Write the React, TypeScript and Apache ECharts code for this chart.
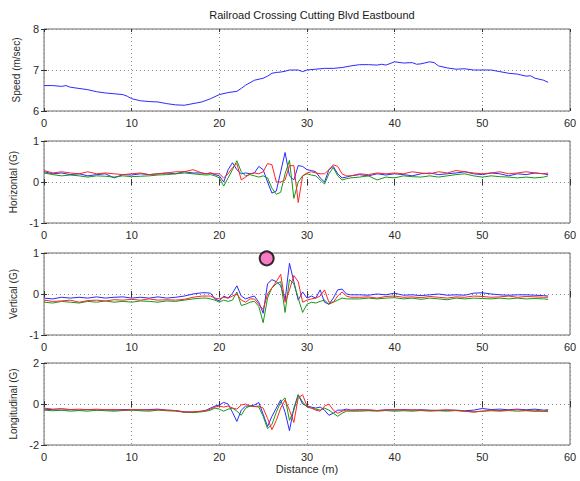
import React, { useEffect, useRef } from "react";
import * as echarts from "echarts";

const TITLE = "Railroad Crossing Cutting Blvd Eastbound";
const X_NAME = "Distance (m)";
const Y_NAMES = ["Speed (m/sec)", "Horizontal (G)", "Vertical (G)", "Longitudinal (G)"];
// [min, max, interval]
const Y_RANGES = [
  [6, 8, 1],
  [-1, 1, 1],
  [-1, 1, 1],
  [-2, 2, 2],
];
const X_RANGE = [0, 60, 10];

// Speed (m/sec)
const SPEED_X = [0, 1, 2, 2.5, 3, 4, 5, 6, 7, 8, 9, 9.5, 10, 11, 12, 13, 14, 15, 16, 17, 18, 19, 20, 21, 22, 22.5, 23, 24, 25, 25.5, 26, 26.5, 27, 27.5, 28, 29, 29.5, 30, 31, 32, 33, 34, 35, 36, 37, 38, 38.5, 39, 40, 41, 42, 42.5, 43, 44, 44.5, 45, 46, 47, 48, 49, 50, 51, 52, 53, 54, 55, 55.5, 56, 57, 57.5];
const SPEED = [6.62, 6.62, 6.6, 6.62, 6.58, 6.55, 6.52, 6.47, 6.44, 6.42, 6.4, 6.36, 6.3, 6.25, 6.23, 6.22, 6.18, 6.15, 6.14, 6.18, 6.22, 6.3, 6.4, 6.45, 6.48, 6.55, 6.63, 6.75, 6.8, 6.85, 6.92, 6.94, 6.95, 6.97, 7.0, 7.0, 6.96, 7.0, 7.02, 7.04, 7.04, 7.06, 7.1, 7.13, 7.13, 7.12, 7.14, 7.12, 7.2, 7.17, 7.18, 7.14, 7.15, 7.2, 7.18, 7.1, 7.05, 7.02, 7.03, 7.0, 7.0, 7.0, 6.96, 6.92, 6.9, 6.85, 6.86, 6.8, 6.75, 6.7];

// Distance samples for acceleration traces
const X = [
  0, 1, 2, 3, 4, 5, 6, 7, 8, 9, 10, 11, 12, 13, 14, 15, 16, 17, 18,
  18.5, 19, 19.5, 20, 20.5, 21, 21.5, 22, 22.5, 23, 23.5, 24, 24.5, 25, 25.5, 26, 26.5, 27, 27.5, 28, 28.5, 29, 29.5, 30, 30.5, 31, 31.5, 32, 32.5, 33, 33.5, 34, 34.5, 35,
  36, 37, 38, 39, 40, 41, 42, 43, 44, 45, 46, 47, 48, 49, 50, 51, 52, 53, 54, 55, 56, 57, 57.5,
];

// Horizontal (G)
const H_BLUE = [
  0.25, 0.2, 0.22, 0.18, 0.2, 0.15, 0.18, 0.2, 0.1, 0.18, 0.17, 0.2, 0.18, 0.2, 0.22, 0.2, 0.25, 0.22, 0.22,
  0.2, 0.22, 0.18, 0.15, 0.0, 0.3, 0.47, 0.3, 0.2, 0.22, 0.2, 0.22, 0.38, 0.3, 0.0, -0.27, -0.22, 0.25, 0.72, 0.15, 0.05, 0.4, 0.38, 0.3, 0.28, 0.25, 0.1, 0.0, 0.3, 0.38, 0.2, 0.1, 0.12, 0.15,
  0.18, 0.15, 0.2, 0.17, 0.2, 0.18, 0.15, 0.2, 0.22, 0.18, 0.2, 0.22, 0.25, 0.2, 0.18, 0.22, 0.2, 0.15, 0.2, 0.18, 0.22, 0.2, 0.18,
];
const H_GREEN = [
  0.22, 0.18, 0.15, 0.17, 0.15, 0.12, 0.15, 0.14, 0.12, 0.15, 0.13, 0.14, 0.15, 0.17, 0.18, 0.2, 0.22, 0.2, 0.18,
  0.17, 0.18, 0.15, 0.1, -0.1, 0.1, 0.3, 0.52, 0.25, 0.15, 0.18, 0.15, 0.12, 0.15, 0.1, -0.15, -0.3, -0.25, 0.2, 0.53, -0.4, 0.0, 0.15, 0.2, 0.17, 0.15, 0.05, -0.05, 0.2, 0.35, 0.15, 0.05, 0.08, 0.1,
  0.12, 0.15, 0.05, 0.12, 0.1, 0.15, 0.13, 0.12, 0.15, 0.12, 0.15, 0.18, 0.2, 0.15, 0.12, 0.15, 0.13, 0.12, 0.1, 0.12, 0.1, 0.12, 0.15,
];
const H_RED = [
  0.28, 0.22, 0.25, 0.22, 0.2, 0.25, 0.2, 0.22, 0.2, 0.18, 0.2, 0.22, 0.18, 0.2, 0.22, 0.25, 0.25, 0.3, 0.22,
  0.2, 0.22, 0.2, 0.2, 0.1, 0.2, 0.35, 0.45, 0.05, 0.12, 0.2, 0.22, 0.2, 0.25, 0.45, 0.42, 0.0, 0.0, 0.05, 0.4, 0.4, -0.5, 0.15, 0.22, 0.25, 0.22, 0.2, 0.2, 0.3, 0.42, 0.38, 0.2, 0.15, 0.15,
  0.2, 0.18, 0.22, 0.2, 0.22, 0.2, 0.25, 0.22, 0.2, 0.25, 0.22, 0.28, 0.25, 0.22, 0.2, 0.22, 0.25, 0.2, 0.22, 0.25, 0.22, 0.2, 0.22,
];

// Vertical (G)
const V_BLUE = [
  -0.1, -0.12, -0.08, -0.1, -0.08, -0.1, -0.07, -0.1, -0.08, -0.07, -0.1, -0.08, -0.1, -0.07, -0.1, -0.08, -0.05, 0.0, 0.03,
  0.03, 0.02, -0.12, -0.17, -0.05, -0.1, 0.02, 0.2, -0.05, -0.12, -0.08, -0.05, -0.2, -0.47, 0.25, 0.35, 0.3, 0.2, -0.15, 0.75, 0.3, -0.15, 0.05, -0.1, -0.05, -0.1, 0.1, -0.2, -0.25, -0.1, 0.1, 0.12, 0.0, -0.02,
  -0.02, -0.03, 0.0, -0.02, 0.02, -0.03, -0.02, -0.04, -0.02, 0.0, -0.03, -0.02, -0.03, 0.02, 0.03, 0.0, -0.02, -0.03, -0.02, -0.02, -0.03, -0.04, -0.05,
];
const V_GREEN = [
  -0.2, -0.22, -0.18, -0.2, -0.22, -0.18, -0.2, -0.17, -0.2, -0.18, -0.2, -0.17, -0.18, -0.2, -0.17, -0.18, -0.15, -0.12, -0.1,
  -0.1, -0.12, -0.15, -0.2, -0.15, -0.18, -0.15, 0.05, -0.28, -0.25, -0.2, -0.18, -0.3, -0.7, -0.1, 0.15, 0.25, 0.3, -0.45, 0.35, 0.25, -0.1, -0.45, -0.25, -0.2, -0.22, -0.18, -0.15, -0.25, -0.2, -0.15, -0.1, -0.12, -0.12,
  -0.12, -0.1, -0.12, -0.1, -0.09, -0.12, -0.1, -0.13, -0.1, -0.12, -0.14, -0.1, -0.12, -0.1, -0.11, -0.12, -0.1, -0.12, -0.1, -0.12, -0.11, -0.12, -0.13,
];
const V_RED = [
  -0.15, -0.18, -0.17, -0.15, -0.2, -0.16, -0.15, -0.17, -0.14, -0.15, -0.13, -0.15, -0.12, -0.15, -0.14, -0.15, -0.13, -0.08, -0.05,
  -0.05, -0.05, -0.1, -0.12, -0.08, -0.1, -0.05, 0.0, -0.15, -0.2, -0.12, -0.12, -0.25, -0.38, 0.0, 0.15, 0.3, 0.48, -0.2, 0.1, 0.45, 0.3, -0.2, -0.15, -0.12, -0.1, -0.05, 0.1, -0.2, -0.2, -0.05, 0.05, -0.05, -0.08,
  -0.08, -0.07, -0.1, -0.06, -0.05, -0.08, -0.07, -0.09, -0.06, -0.08, -0.1, -0.07, -0.08, -0.05, -0.06, -0.08, -0.07, -0.05, -0.08, -0.06, -0.07, -0.08, -0.08,
];

// Longitudinal (G)
const L_BLUE = [
  -0.25, -0.28, -0.3, -0.28, -0.3, -0.27, -0.3, -0.28, -0.3, -0.27, -0.28, -0.3, -0.27, -0.25, -0.3, -0.32, -0.38, -0.4, -0.35,
  -0.3, -0.2, -0.1, -0.05, 0.08, 0.0, -0.4, -0.85, -0.3, -0.1, -0.1, -0.05, 0.07, -0.5, -1.1, -0.6, -0.2, 0.2, -0.4, -1.3, -0.2, 0.45, 0.0, -0.1, -0.15, -0.2, -0.15, -0.3, -0.55, -0.45, -0.3, -0.3, -0.25, -0.3,
  -0.28, -0.3, -0.32, -0.28, -0.3, -0.27, -0.3, -0.28, -0.3, -0.32, -0.3, -0.3, -0.33, -0.3, -0.22, -0.27, -0.25, -0.28, -0.25, -0.28, -0.25, -0.3, -0.28,
];
const L_GREEN = [
  -0.3, -0.33, -0.3, -0.35, -0.32, -0.35, -0.3, -0.33, -0.35, -0.32, -0.3, -0.33, -0.35, -0.3, -0.33, -0.35, -0.4, -0.42, -0.38,
  -0.35, -0.3, -0.2, -0.25, -0.35, -0.25, -0.2, -0.35, -0.55, -0.2, -0.1, -0.12, -0.15, -0.6, -1.2, -1.0, -0.4, 0.1, 0.3, -0.8, -0.3, 0.45, 0.1, -0.15, -0.2, -0.25, -0.3, -0.2, -0.3, -0.45, -0.6, -0.45, -0.35, -0.35,
  -0.35, -0.33, -0.35, -0.32, -0.35, -0.33, -0.35, -0.32, -0.35, -0.33, -0.35, -0.32, -0.35, -0.38, -0.35, -0.33, -0.35, -0.32, -0.35, -0.33, -0.36, -0.35, -0.38,
];
const L_RED = [
  -0.2, -0.25, -0.22, -0.27, -0.25, -0.28, -0.25, -0.28, -0.27, -0.3, -0.28, -0.27, -0.3, -0.28, -0.3, -0.32, -0.4, -0.38, -0.35,
  -0.32, -0.25, -0.15, -0.1, -0.15, -0.1, -0.2, -0.25, -0.05, 0.0, -0.1, -0.12, -0.1, -0.2, -0.7, -1.25, -0.8, -0.2, 0.2, -0.3, -0.9, 0.3, 0.45, -0.1, -0.2, -0.3, -0.35, -0.1, 0.0, -0.3, -0.45, -0.35, -0.3, -0.3,
  -0.3, -0.28, -0.32, -0.3, -0.27, -0.3, -0.28, -0.3, -0.32, -0.3, -0.28, -0.32, -0.35, -0.4, -0.35, -0.3, -0.32, -0.3, -0.28, -0.32, -0.3, -0.35, -0.3,
];

// Annotation marker on the Vertical plot [distance, G]
const MARKER = [[25.4, 0.87]];

const FONT = "'Liberation Sans', Arial, Helvetica, sans-serif";
const BLUE = "#2a2aff";
const GREEN = "#139a13";
const RED = "#ff2424";

export default function App() {
  const ref = useRef<HTMLDivElement>(null);

  useEffect(() => {
    if (!ref.current) return;
    const chart = echarts.init(ref.current, undefined, { renderer: "svg" });

    const tops = [29, 141, 253, 363];
    const h = 82;
    const grids = tops.map((t) => ({
      left: 44,
      right: 10,
      top: t,
      height: h,
      show: true,
      borderColor: "#6a6a6a",
      borderWidth: 1,
      backgroundColor: "#ffffff",
      containLabel: false,
      outerBoundsMode: "none",
    }));

    const splitStyle = { show: true, lineStyle: { color: "#8c8c8c", type: [1, 3] as any, width: 1 } };
    const labelStyle = { color: "#2a2a2a", fontSize: 11, fontFamily: FONT };

    const xAxes: any[] = [];
    const yAxes: any[] = [];
    for (let k = 0; k < 4; k++) {
      xAxes.push({
        type: "value",
        gridIndex: k,
        min: X_RANGE[0],
        max: X_RANGE[1],
        interval: X_RANGE[2],
        position: "bottom",
        axisLine: { show: false },
        axisTick: { show: true, inside: true, length: 3, lineStyle: { color: "#333" } },
        axisLabel: { ...labelStyle, margin: 6, showMinLabel: true, showMaxLabel: true, hideOverlap: false },
        splitLine: splitStyle,
        name: k === 3 ? X_NAME : "",
        nameLocation: "middle",
        nameGap: 18,
        nameTextStyle: { color: "#2a2a2a", fontSize: 11, fontFamily: FONT },
      });
      yAxes.push({
        type: "value",
        gridIndex: k,
        min: Y_RANGES[k][0],
        max: Y_RANGES[k][1],
        interval: Y_RANGES[k][2],
        position: "left",
        axisLine: { show: false },
        axisTick: { show: true, inside: true, length: 3, lineStyle: { color: "#333" } },
        axisLabel: { ...labelStyle, margin: 5, showMinLabel: true, showMaxLabel: true, hideOverlap: false },
        splitLine: splitStyle,
        name: Y_NAMES[k],
        nameLocation: "middle",
        nameRotate: 90,
        nameGap: 14,
        nameTextStyle: { color: "#2a2a2a", fontSize: 10, fontFamily: FONT },
      });
    }
    // mirrored tick marks on top/right edges
    for (let k = 0; k < 4; k++) {
      xAxes.push({
        type: "value",
        gridIndex: k,
        min: X_RANGE[0],
        max: X_RANGE[1],
        interval: X_RANGE[2],
        position: "top",
        axisLine: { show: false },
        axisTick: { show: true, inside: true, length: 3, lineStyle: { color: "#333" } },
        axisLabel: { show: false },
        splitLine: { show: false },
      });
      yAxes.push({
        type: "value",
        gridIndex: k,
        min: Y_RANGES[k][0],
        max: Y_RANGES[k][1],
        interval: Y_RANGES[k][2],
        position: "right",
        axisLine: { show: false },
        axisTick: { show: true, inside: true, length: 3, lineStyle: { color: "#333" } },
        axisLabel: { show: false },
        splitLine: { show: false },
      });
    }

    const line = (k: number, xs: number[], ys: number[], color: string, name: string) => ({
      type: "line",
      name,
      xAxisIndex: k,
      yAxisIndex: k,
      data: xs.map((x, i) => [x, ys[i]]),
      showSymbol: false,
      symbol: "none",
      lineStyle: { color, width: 1 },
      itemStyle: { color },
      clip: true,
      z: 3,
    });

    const series: any[] = [
      line(0, SPEED_X, SPEED, BLUE, "Speed"),
      line(1, X, H_BLUE, BLUE, "Horizontal B"),
      line(1, X, H_GREEN, GREEN, "Horizontal G"),
      line(1, X, H_RED, RED, "Horizontal R"),
      line(2, X, V_BLUE, BLUE, "Vertical B"),
      line(2, X, V_GREEN, GREEN, "Vertical G"),
      line(2, X, V_RED, RED, "Vertical R"),
      line(3, X, L_BLUE, BLUE, "Longitudinal B"),
      line(3, X, L_GREEN, GREEN, "Longitudinal G"),
      line(3, X, L_RED, RED, "Longitudinal R"),
      {
        type: "scatter",
        name: "marker",
        xAxisIndex: 2,
        yAxisIndex: 2,
        data: MARKER,
        symbol: "circle",
        symbolSize: 14,
        itemStyle: { color: "#f25cb4", borderColor: "#000000", borderWidth: 2 },
        z: 5,
      },
    ];

    chart.setOption({
      animation: false,
      backgroundColor: "#ffffff",
      title: {
        text: TITLE,
        left: 307,
        top: 4,
        textAlign: "center",
        textStyle: { color: "#1a1a1a", fontSize: 11, fontWeight: "normal", fontFamily: FONT },
      },
      grid: grids,
      xAxis: xAxes,
      yAxis: yAxes,
      series,
    });

    return () => chart.dispose();
  }, []);

  return (
    <div
      ref={ref}
      style={{ position: "absolute", left: 0, top: 0, width: 580, height: 481, background: "#fff" }}
    />
  );
}
